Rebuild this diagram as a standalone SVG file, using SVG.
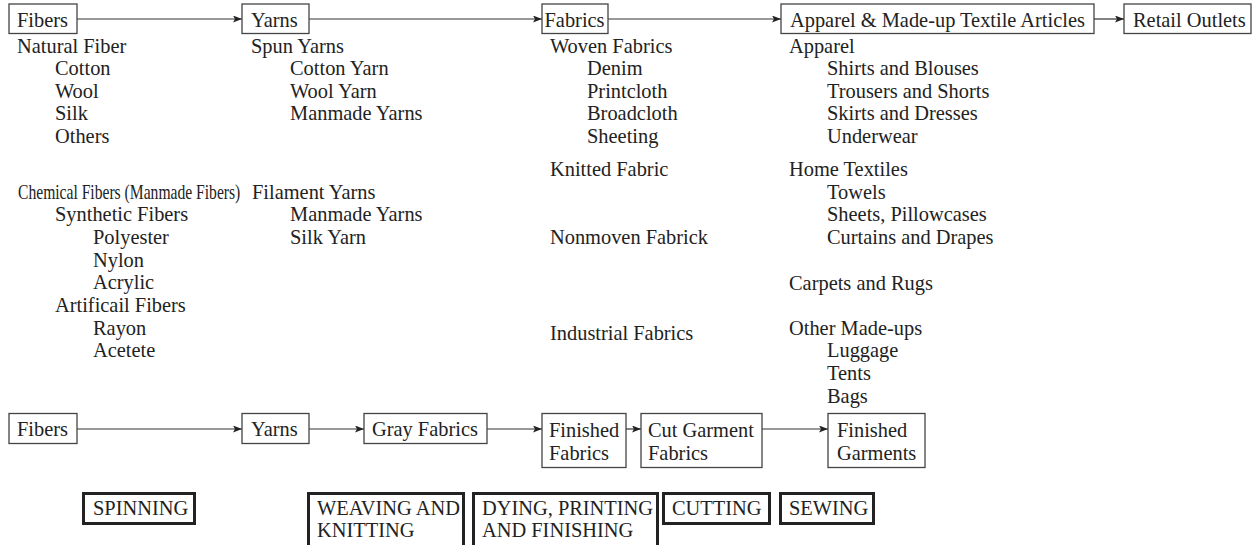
<svg xmlns="http://www.w3.org/2000/svg" width="1253" height="545" viewBox="0 0 1253 545">
<defs>
<marker id="ah" markerWidth="9" markerHeight="7" refX="9" refY="3.5" orient="auto" markerUnits="userSpaceOnUse">
<path d="M0,0 L9,3.5 L0,7 L2,3.5 Z" fill="#222"/>
</marker>
<style>
text{font-family:"Liberation Serif","Times New Roman",serif;font-size:20.4px;fill:#222}
.box{fill:#fff;stroke:#444;stroke-width:1.3}
.lbl{fill:#fff;stroke:#222;stroke-width:3}
.conn line{stroke:#333;stroke-width:1.2;marker-end:url(#ah)}
</style>
</defs>
<rect width="1253" height="545" fill="#fff"/>

<g class="conn" id="connectors">
<line x1="77" y1="19" x2="242" y2="19"/>
<line x1="309" y1="19" x2="542" y2="19"/>
<line x1="608" y1="19" x2="781" y2="19"/>
<line x1="1094" y1="19" x2="1124" y2="19"/>
<line x1="77" y1="429" x2="242" y2="429"/>
<line x1="309" y1="429" x2="364" y2="429"/>
<line x1="487" y1="429" x2="542" y2="429"/>
<line x1="626" y1="429" x2="641" y2="429"/>
<line x1="762" y1="429" x2="828" y2="429"/>
</g>

<g id="top-fibers"><rect class="box" x="9" y="4" width="68" height="29.5"/><text x="17" y="26.5">Fibers</text></g>
<g id="top-yarns"><rect class="box" x="242" y="4" width="67" height="29.5"/><text x="251" y="26.5">Yarns</text></g>
<g id="top-fabrics"><rect class="box" x="542" y="4" width="66" height="29.5"/><text x="544.5" y="26.5">Fabrics</text></g>
<g id="top-apparel"><rect class="box" x="781" y="4" width="313" height="29.5"/><text x="790" y="26.5">Apparel &amp; Made-up Textile Articles</text></g>
<g id="top-retail"><rect class="box" x="1124" y="4" width="127" height="29.5"/><text x="1133" y="26.5">Retail Outlets</text></g>

<g id="list-fibers">
<text x="17" y="52.5">Natural Fiber</text>
<text x="55" y="75">Cotton</text>
<text x="55" y="97.5">Wool</text>
<text x="55" y="120">Silk</text>
<text x="55" y="142.5">Others</text>
<text transform="translate(18,198.5) scale(0.765,1)">Chemical Fibers (Manmade Fibers)</text>
<text x="55" y="221">Synthetic Fibers</text>
<text x="93" y="244">Polyester</text>
<text x="93" y="266.5">Nylon</text>
<text x="93" y="289">Acrylic</text>
<text x="55" y="312">Artificail Fibers</text>
<text x="93" y="334.5">Rayon</text>
<text x="93" y="357">Acetete</text>
</g>

<g id="list-yarns">
<text x="251" y="52.5">Spun Yarns</text>
<text x="290" y="75">Cotton Yarn</text>
<text x="290" y="97.5">Wool Yarn</text>
<text x="290" y="120">Manmade Yarns</text>
<text x="252" y="198.5">Filament Yarns</text>
<text x="290" y="221">Manmade Yarns</text>
<text x="290" y="244">Silk Yarn</text>
</g>

<g id="list-fabrics">
<text x="550" y="52.5">Woven Fabrics</text>
<text x="587" y="75">Denim</text>
<text x="587" y="97.5">Printcloth</text>
<text x="587" y="120">Broadcloth</text>
<text x="587" y="142.5">Sheeting</text>
<text x="550" y="176">Knitted Fabric</text>
<text x="550" y="244">Nonmoven Fabrick</text>
<text x="550" y="340">Industrial Fabrics</text>
</g>

<g id="list-apparel">
<text x="789" y="52.5">Apparel</text>
<text x="827" y="75">Shirts and Blouses</text>
<text x="827" y="97.5">Trousers and Shorts</text>
<text x="827" y="120">Skirts and Dresses</text>
<text x="827" y="142.5">Underwear</text>
<text x="789" y="176">Home Textiles</text>
<text x="827" y="198.5">Towels</text>
<text x="827" y="221">Sheets, Pillowcases</text>
<text x="827" y="244">Curtains and Drapes</text>
<text x="789" y="290">Carpets and Rugs</text>
<text x="789" y="334.5">Other Made-ups</text>
<text x="827" y="357">Luggage</text>
<text x="827" y="380">Tents</text>
<text x="827" y="402.5">Bags</text>
</g>

<g id="bot-fibers"><rect class="box" x="9" y="413.5" width="68" height="30"/><text x="17" y="436">Fibers</text></g>
<g id="bot-yarns"><rect class="box" x="242" y="413.5" width="67" height="30"/><text x="251" y="436">Yarns</text></g>
<g id="bot-gray"><rect class="box" x="364" y="413.5" width="123" height="30"/><text x="372" y="436">Gray Fabrics</text></g>
<g id="bot-finfab"><rect class="box" x="542" y="413.5" width="84" height="54"/><text x="549" y="437">Finished</text><text x="549" y="460">Fabrics</text></g>
<g id="bot-cut"><rect class="box" x="641" y="413.5" width="121" height="54"/><text x="648" y="437">Cut Garment</text><text x="648" y="460">Fabrics</text></g>
<g id="bot-fingar"><rect class="box" x="828" y="413.5" width="97" height="54"/><text x="837" y="437">Finished</text><text x="837" y="460">Garments</text></g>

<g id="stage-spinning"><rect class="lbl" x="83.5" y="493.5" width="111" height="30"/><text x="93" y="515">SPINNING</text></g>
<g id="stage-weaving"><rect class="lbl" x="308.5" y="493.5" width="155" height="60"/><text x="317" y="515">WEAVING AND</text><text x="317" y="537">KNITTING</text></g>
<g id="stage-dying"><rect class="lbl" x="473.5" y="493.5" width="184" height="60"/><text x="482" y="515">DYING, PRINTING</text><text x="482" y="537">AND FINISHING</text></g>
<g id="stage-cutting"><rect class="lbl" x="663.5" y="493.5" width="106" height="30"/><text x="672" y="515">CUTTING</text></g>
<g id="stage-sewing"><rect class="lbl" x="780.5" y="493.5" width="93" height="30"/><text x="789" y="515">SEWING</text></g>
</svg>
